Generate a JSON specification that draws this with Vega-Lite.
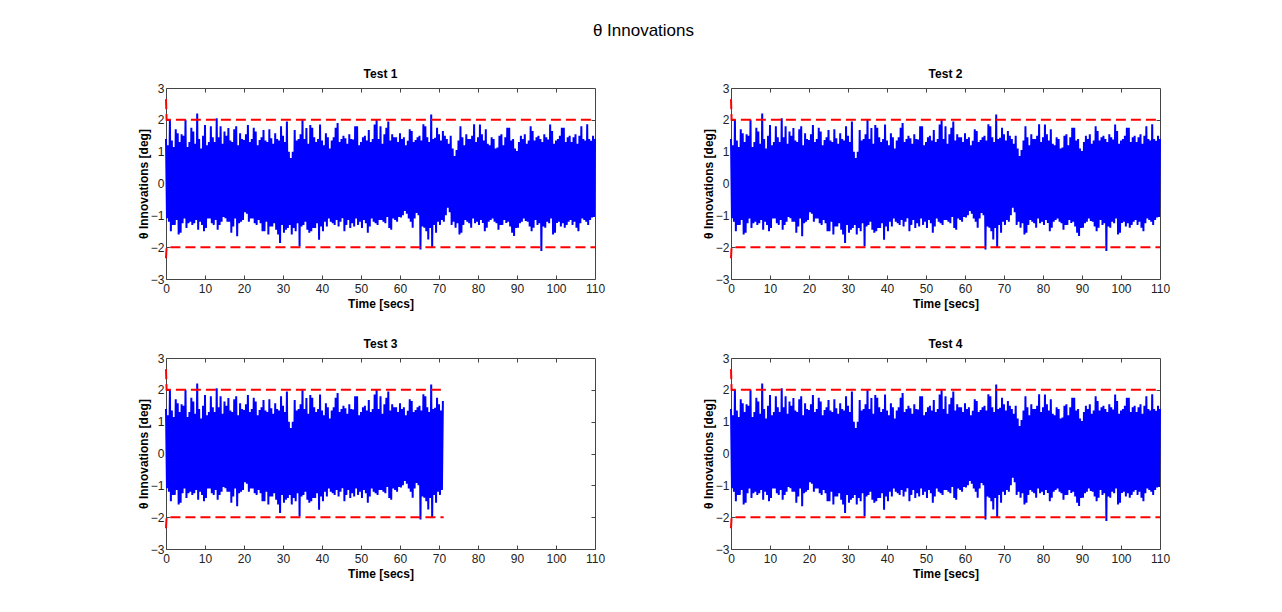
{
  "$schema": "https://vega.github.io/schema/vega-lite/v6.json",
  "background": "white",
  "padding": {"left": 136, "top": 21, "right": 10, "bottom": 10},
  "title": {"text": "θ Innovations", "fontSize": 17, "fontWeight": "normal", "offset": 28, "dx": -10, "anchor": "middle"},
  "datasets": {
    "innov": [
      {"t":0,"v":1.4},{"t":0.25,"v":-1.09},{"t":0.5,"v":1.2},{"t":0.75,"v":-1.2},
      {"t":1,"v":2.0},{"t":1.25,"v":-1.5},{"t":1.5,"v":1.35},{"t":1.75,"v":-1.3},
      {"t":2,"v":1.15},{"t":2.25,"v":-1.3},{"t":2.5,"v":1.7},{"t":2.75,"v":-1.15},
      {"t":3,"v":1.58},{"t":3.25,"v":-1.6},{"t":3.5,"v":1.3},{"t":3.75,"v":-1.55},
      {"t":4,"v":1.55},{"t":4.25,"v":-1.25},{"t":4.5,"v":1.5},{"t":4.75,"v":-1.1},
      {"t":5,"v":2.0},{"t":5.25,"v":-1.4},{"t":5.5,"v":1.15},{"t":5.75,"v":-1.25},
      {"t":6,"v":1.3},{"t":6.25,"v":-1.2},{"t":6.5,"v":1.75},{"t":6.75,"v":-1.3},
      {"t":7,"v":1.63},{"t":7.25,"v":-1.25},{"t":7.5,"v":1.25},{"t":7.75,"v":-1.15},
      {"t":8,"v":2.2},{"t":8.25,"v":-1.45},{"t":8.5,"v":1.4},{"t":8.75,"v":-1.2},
      {"t":9,"v":1.1},{"t":9.25,"v":-1.3},{"t":9.5,"v":1.5},{"t":9.75,"v":-1.5},
      {"t":10,"v":1.84},{"t":10.25,"v":-1.4},{"t":10.5,"v":1.2},{"t":10.75,"v":-1.1},
      {"t":11,"v":1.3},{"t":11.25,"v":-1.1},{"t":11.5,"v":1.8},{"t":11.75,"v":-1.25},
      {"t":12,"v":1.45},{"t":12.25,"v":-1.3},{"t":12.5,"v":1.3},{"t":12.75,"v":-1.15},
      {"t":13,"v":2.05},{"t":13.25,"v":-1.45},{"t":13.5,"v":1.45},{"t":13.75,"v":-1.3},
      {"t":14,"v":1.8},{"t":14.25,"v":-1.2},{"t":14.5,"v":1.25},{"t":14.75,"v":-1.05},
      {"t":15,"v":1.63},{"t":15.25,"v":-1.09},{"t":15.5,"v":1.5},{"t":15.75,"v":-1.2},
      {"t":16,"v":1.74},{"t":16.25,"v":-1.2},{"t":16.5,"v":1.35},{"t":16.75,"v":-1.55},
      {"t":17,"v":1.3},{"t":17.25,"v":-1.35},{"t":17.5,"v":1.7},{"t":17.75,"v":-1.1},
      {"t":18,"v":1.8},{"t":18.25,"v":-1.66},{"t":18.5,"v":1.2},{"t":18.75,"v":-1.25},
      {"t":19,"v":1.58},{"t":19.25,"v":-1.2},{"t":19.5,"v":1.4},{"t":19.75,"v":-1.15},
      {"t":20,"v":1.37},{"t":20.25,"v":-0.9},{"t":20.5,"v":1.55},{"t":20.75,"v":-0.95},
      {"t":21,"v":1.84},{"t":21.25,"v":-1.2},{"t":21.5,"v":1.3},{"t":21.75,"v":-1.1},
      {"t":22,"v":1.4},{"t":22.25,"v":-1.1},{"t":22.5,"v":1.75},{"t":22.75,"v":-1.25},
      {"t":23,"v":1.63},{"t":23.25,"v":-1.3},{"t":23.5,"v":1.2},{"t":23.75,"v":-1.15},
      {"t":24,"v":1.37},{"t":24.25,"v":-1.25},{"t":24.5,"v":1.45},{"t":24.75,"v":-1.5},
      {"t":25,"v":1.68},{"t":25.25,"v":-1.5},{"t":25.5,"v":1.35},{"t":25.75,"v":-1.2},
      {"t":26,"v":1.3},{"t":26.25,"v":-1.6},{"t":26.5,"v":1.7},{"t":26.75,"v":-1.35},
      {"t":27,"v":1.42},{"t":27.25,"v":-1.35},{"t":27.5,"v":1.25},{"t":27.75,"v":-1.25},
      {"t":28,"v":1.58},{"t":28.25,"v":-1.45},{"t":28.5,"v":1.4},{"t":28.75,"v":-1.6},
      {"t":29,"v":1.35},{"t":29.25,"v":-1.87},{"t":29.5,"v":1.8},{"t":29.75,"v":-1.3},
      {"t":30,"v":1.5},{"t":30.25,"v":-1.55},{"t":30.5,"v":1.3},{"t":30.75,"v":-1.45},
      {"t":31,"v":1.95},{"t":31.25,"v":-1.4},{"t":31.5,"v":1.0},{"t":31.75,"v":-1.3},
      {"t":32,"v":0.8},{"t":32.25,"v":-1.6},{"t":32.5,"v":1.0},{"t":32.75,"v":-1.4},
      {"t":33,"v":1.68},{"t":33.25,"v":-1.5},{"t":33.5,"v":1.35},{"t":33.75,"v":-1.25},
      {"t":34,"v":1.4},{"t":34.25,"v":-1.98},{"t":34.5,"v":1.55},{"t":34.75,"v":-1.35},
      {"t":35,"v":2.0},{"t":35.25,"v":-1.3},{"t":35.5,"v":1.4},{"t":35.75,"v":-1.2},
      {"t":36,"v":1.74},{"t":36.25,"v":-1.45},{"t":36.5,"v":1.25},{"t":36.75,"v":-1.55},
      {"t":37,"v":1.84},{"t":37.25,"v":-1.5},{"t":37.5,"v":1.75},{"t":37.75,"v":-1.4},
      {"t":38,"v":1.45},{"t":38.25,"v":-1.4},{"t":38.5,"v":1.3},{"t":38.75,"v":-1.25},
      {"t":39,"v":1.4},{"t":39.25,"v":-1.77},{"t":39.5,"v":1.85},{"t":39.75,"v":-1.35},
      {"t":40,"v":1.35},{"t":40.25,"v":-1.5},{"t":40.5,"v":1.2},{"t":40.75,"v":-1.2},
      {"t":41,"v":1.58},{"t":41.25,"v":-1.35},{"t":41.5,"v":1.45},{"t":41.75,"v":-1.1},
      {"t":42,"v":1.1},{"t":42.25,"v":-1.2},{"t":42.5,"v":1.35},{"t":42.75,"v":-1.25},
      {"t":43,"v":1.45},{"t":43.25,"v":-1.3},{"t":43.5,"v":1.75},{"t":43.75,"v":-1.15},
      {"t":44,"v":1.9},{"t":44.25,"v":-1.35},{"t":44.5,"v":1.3},{"t":44.75,"v":-1.2},
      {"t":45,"v":1.4},{"t":45.25,"v":-1.09},{"t":45.5,"v":1.5},{"t":45.75,"v":-1.5},
      {"t":46,"v":1.42},{"t":46.25,"v":-1.3},{"t":46.5,"v":1.25},{"t":46.75,"v":-1.15},
      {"t":47,"v":1.55},{"t":47.25,"v":-1.4},{"t":47.5,"v":1.4},{"t":47.75,"v":-1.25},
      {"t":48,"v":1.38},{"t":48.25,"v":-1.35},{"t":48.5,"v":1.8},{"t":48.75,"v":-1.1},
      {"t":49,"v":1.8},{"t":49.25,"v":-1.3},{"t":49.5,"v":1.2},{"t":49.75,"v":-1.2},
      {"t":50,"v":1.3},{"t":50.25,"v":-1.4},{"t":50.5,"v":1.45},{"t":50.75,"v":-1.15},
      {"t":51,"v":1.5},{"t":51.25,"v":-1.25},{"t":51.5,"v":1.35},{"t":51.75,"v":-1.55},
      {"t":52,"v":1.68},{"t":52.25,"v":-1.35},{"t":52.5,"v":1.3},{"t":52.75,"v":-1.1},
      {"t":53,"v":1.4},{"t":53.25,"v":-1.2},{"t":53.5,"v":1.85},{"t":53.75,"v":-1.25},
      {"t":54,"v":2.0},{"t":54.25,"v":-1.3},{"t":54.5,"v":1.4},{"t":54.75,"v":-1.15},
      {"t":55,"v":1.8},{"t":55.25,"v":-1.15},{"t":55.5,"v":1.25},{"t":55.75,"v":-1.2},
      {"t":56,"v":1.55},{"t":56.25,"v":-1.25},{"t":56.5,"v":1.75},{"t":56.75,"v":-1.05},
      {"t":57,"v":1.95},{"t":57.25,"v":-1.4},{"t":57.5,"v":1.35},{"t":57.75,"v":-1.45},
      {"t":58,"v":1.55},{"t":58.25,"v":-1.1},{"t":58.5,"v":1.45},{"t":58.75,"v":-1.15},
      {"t":59,"v":1.45},{"t":59.25,"v":-1.2},{"t":59.5,"v":1.3},{"t":59.75,"v":-1.05},
      {"t":60,"v":1.58},{"t":60.25,"v":-1.07},{"t":60.5,"v":1.4},{"t":60.75,"v":-1.0},
      {"t":61,"v":1.45},{"t":61.25,"v":-0.86},{"t":61.5,"v":1.2},{"t":61.75,"v":-0.95},
      {"t":62,"v":1.34},{"t":62.25,"v":-1.1},{"t":62.5,"v":1.7},{"t":62.75,"v":-1.2},
      {"t":63,"v":1.65},{"t":63.25,"v":-1.39},{"t":63.5,"v":1.3},{"t":63.75,"v":-1.1},
      {"t":64,"v":1.37},{"t":64.25,"v":-0.93},{"t":64.5,"v":1.45},{"t":64.75,"v":-1.0},
      {"t":65,"v":1.5},{"t":65.25,"v":-2.07},{"t":65.5,"v":1.35},{"t":65.75,"v":-1.35},
      {"t":66,"v":1.86},{"t":66.25,"v":-1.39},{"t":66.5,"v":1.8},{"t":66.75,"v":-1.5},
      {"t":67,"v":1.45},{"t":67.25,"v":-1.76},{"t":67.5,"v":1.3},{"t":67.75,"v":-1.4},
      {"t":68,"v":2.17},{"t":68.25,"v":-2.0},{"t":68.5,"v":1.4},{"t":68.75,"v":-1.3},
      {"t":69,"v":1.44},{"t":69.25,"v":-1.55},{"t":69.5,"v":1.75},{"t":69.75,"v":-1.2},
      {"t":70,"v":1.55},{"t":70.25,"v":-1.3},{"t":70.5,"v":1.35},{"t":70.75,"v":-1.15},
      {"t":71,"v":1.65},{"t":71.25,"v":-1.2},{"t":71.5,"v":1.5},{"t":71.75,"v":-1.0},
      {"t":72,"v":1.4},{"t":72.25,"v":-0.76},{"t":72.5,"v":1.25},{"t":72.75,"v":-0.9},
      {"t":73,"v":1.5},{"t":73.25,"v":-1.3},{"t":73.5,"v":1.1},{"t":73.75,"v":-1.2},
      {"t":74,"v":0.86},{"t":74.25,"v":-1.39},{"t":74.5,"v":1.05},{"t":74.75,"v":-1.25},
      {"t":75,"v":1.35},{"t":75.25,"v":-1.6},{"t":75.5,"v":1.8},{"t":75.75,"v":-1.55},
      {"t":76,"v":1.45},{"t":76.25,"v":-1.3},{"t":76.5,"v":1.2},{"t":76.75,"v":-1.15},
      {"t":77,"v":1.55},{"t":77.25,"v":-1.2},{"t":77.5,"v":1.4},{"t":77.75,"v":-1.25},
      {"t":78,"v":1.4},{"t":78.25,"v":-1.39},{"t":78.5,"v":1.5},{"t":78.75,"v":-1.1},
      {"t":79,"v":1.86},{"t":79.25,"v":-1.25},{"t":79.5,"v":1.3},{"t":79.75,"v":-1.2},
      {"t":80,"v":1.45},{"t":80.25,"v":-1.3},{"t":80.5,"v":1.85},{"t":80.75,"v":-1.15},
      {"t":81,"v":1.55},{"t":81.25,"v":-1.24},{"t":81.5,"v":1.35},{"t":81.75,"v":-1.5},
      {"t":82,"v":1.7},{"t":82.25,"v":-1.39},{"t":82.5,"v":1.25},{"t":82.75,"v":-1.2},
      {"t":83,"v":1.2},{"t":83.25,"v":-1.15},{"t":83.5,"v":1.45},{"t":83.75,"v":-1.1},
      {"t":84,"v":1.4},{"t":84.25,"v":-1.2},{"t":84.5,"v":1.1},{"t":84.75,"v":-1.25},
      {"t":85,"v":1.13},{"t":85.25,"v":-1.45},{"t":85.5,"v":1.5},{"t":85.75,"v":-1.3},
      {"t":86,"v":1.55},{"t":86.25,"v":-1.3},{"t":86.5,"v":1.2},{"t":86.75,"v":-1.15},
      {"t":87,"v":1.45},{"t":87.25,"v":-1.24},{"t":87.5,"v":1.75},{"t":87.75,"v":-1.2},
      {"t":88,"v":1.75},{"t":88.25,"v":-1.35},{"t":88.5,"v":1.35},{"t":88.75,"v":-1.55},
      {"t":89,"v":1.4},{"t":89.25,"v":-1.65},{"t":89.5,"v":1.1},{"t":89.75,"v":-1.4},
      {"t":90,"v":1.02},{"t":90.25,"v":-1.39},{"t":90.5,"v":1.3},{"t":90.75,"v":-1.25},
      {"t":91,"v":1.5},{"t":91.25,"v":-1.2},{"t":91.5,"v":1.4},{"t":91.75,"v":-1.1},
      {"t":92,"v":1.55},{"t":92.25,"v":-1.18},{"t":92.5,"v":1.25},{"t":92.75,"v":-1.2},
      {"t":93,"v":1.35},{"t":93.25,"v":-1.35},{"t":93.5,"v":1.8},{"t":93.75,"v":-1.5},
      {"t":94,"v":1.65},{"t":94.25,"v":-1.39},{"t":94.5,"v":1.35},{"t":94.75,"v":-1.15},
      {"t":95,"v":1.45},{"t":95.25,"v":-1.3},{"t":95.5,"v":1.5},{"t":95.75,"v":-1.25},
      {"t":96,"v":1.4},{"t":96.25,"v":-2.12},{"t":96.5,"v":1.3},{"t":96.75,"v":-1.35},
      {"t":97,"v":1.55},{"t":97.25,"v":-1.39},{"t":97.5,"v":1.45},{"t":97.75,"v":-1.2},
      {"t":98,"v":1.38},{"t":98.25,"v":-1.25},{"t":98.5,"v":1.85},{"t":98.75,"v":-1.1},
      {"t":99,"v":1.65},{"t":99.25,"v":-1.6},{"t":99.5,"v":1.25},{"t":99.75,"v":-1.55},
      {"t":100,"v":1.35},{"t":100.25,"v":-1.24},{"t":100.5,"v":1.4},{"t":100.75,"v":-1.2},
      {"t":101,"v":1.5},{"t":101.25,"v":-1.35},{"t":101.5,"v":1.75},{"t":101.75,"v":-1.25},
      {"t":102,"v":1.75},{"t":102.25,"v":-1.39},{"t":102.5,"v":1.3},{"t":102.75,"v":-1.3},
      {"t":103,"v":1.45},{"t":103.25,"v":-1.2},{"t":103.5,"v":1.5},{"t":103.75,"v":-1.15},
      {"t":104,"v":1.3},{"t":104.25,"v":-1.3},{"t":104.5,"v":1.45},{"t":104.75,"v":-1.2},
      {"t":105,"v":1.55},{"t":105.25,"v":-1.39},{"t":105.5,"v":1.25},{"t":105.75,"v":-1.5},
      {"t":106,"v":1.5},{"t":106.25,"v":-1.25},{"t":106.5,"v":1.8},{"t":106.75,"v":-1.1},
      {"t":107,"v":1.4},{"t":107.25,"v":-1.15},{"t":107.5,"v":1.35},{"t":107.75,"v":-1.2},
      {"t":108,"v":1.86},{"t":108.25,"v":-1.3},{"t":108.5,"v":1.4},{"t":108.75,"v":-1.15},
      {"t":109,"v":1.34},{"t":109.25,"v":-1.07},{"t":109.5,"v":1.5},{"t":109.75,"v":-1.05},
      {"t":110,"v":1.4}
    ],
    "bounds": [
      {"test":"Test 1","t":0,"u":2.65,"l":-2.35},{"test":"Test 1","t":0.15,"u":2,"l":-2},{"test":"Test 1","t":110,"u":2,"l":-2},
      {"test":"Test 2","t":0,"u":2.65,"l":-2.35},{"test":"Test 2","t":0.15,"u":2,"l":-2},{"test":"Test 2","t":110,"u":2,"l":-2},
      {"test":"Test 3","t":0,"u":2.65,"l":-2.35},{"test":"Test 3","t":0.15,"u":2,"l":-2},{"test":"Test 3","t":71.2,"u":2,"l":-2},
      {"test":"Test 4","t":0,"u":2.65,"l":-2.35},{"test":"Test 4","t":0.15,"u":2,"l":-2},{"test":"Test 4","t":110,"u":2,"l":-2}
    ]
  },
  "columns": 2,
  "spacing": {"row": 79, "column": 136},
  "bounds": "flush",
  "concat": [
    {
      "title": "Test 1",
      "width": 429, "height": 191,
      "layer": [
        {
          "data": {"name": "innov"},
          "mark": {"type": "line", "color": "#0000ff", "strokeWidth": 2},
          "encoding": {
            "x": {"field": "t", "type": "quantitative", "scale": {"domain": [0, 110], "nice": false, "zero": false},
                  "axis": {"values": [0,10,20,30,40,50,60,70,80,90,100,110], "title": "Time [secs]", "titlePadding": 4, "labelFlush": false, "labelOverlap": false}},
            "y": {"field": "v", "type": "quantitative", "scale": {"domain": [-3, 3], "nice": false, "zero": false},
                  "axis": {"values": [-3,-2,-1,0,1,2,3], "title": "θ Innovations [deg]", "titlePadding": 0, "labelPadding": 6, "labelFlush": false, "labelOverlap": false}}
          }
        },
        {
          "data": {"name": "bounds"},
          "transform": [{"filter": "datum.test == 'Test 1'"}],
          "mark": {"type": "line", "color": "#ff0000", "strokeWidth": 2, "strokeDash": [10, 5]},
          "encoding": {
            "x": {"field": "t", "type": "quantitative", "scale": {"domain": [0, 110], "nice": false, "zero": false},
                  "axis": {"orient": "top", "values": [10,20,30,40,50,60,70,80,90,100], "labels": false, "title": null}},
            "y": {"field": "u", "type": "quantitative", "scale": {"domain": [-3, 3], "nice": false, "zero": false},
                  "axis": {"orient": "right", "values": [-2,-1,0,1,2], "labels": false, "title": null}}
          }
        },
        {
          "data": {"name": "bounds"},
          "transform": [{"filter": "datum.test == 'Test 1'"}],
          "mark": {"type": "line", "color": "#ff0000", "strokeWidth": 2, "strokeDash": [10, 5]},
          "encoding": {
            "x": {"field": "t", "type": "quantitative", "axis": null},
            "y": {"field": "l", "type": "quantitative", "axis": null}
          }
        }
      ],
      "resolve": {"axis": {"x": "independent", "y": "independent"}}
    },
    {
      "title": "Test 2",
      "width": 429, "height": 191,
      "layer": [
        {
          "data": {"name": "innov"},
          "mark": {"type": "line", "color": "#0000ff", "strokeWidth": 2},
          "encoding": {
            "x": {"field": "t", "type": "quantitative", "scale": {"domain": [0, 110], "nice": false, "zero": false},
                  "axis": {"values": [0,10,20,30,40,50,60,70,80,90,100,110], "title": "Time [secs]", "titlePadding": 4, "labelFlush": false, "labelOverlap": false}},
            "y": {"field": "v", "type": "quantitative", "scale": {"domain": [-3, 3], "nice": false, "zero": false},
                  "axis": {"values": [-3,-2,-1,0,1,2,3], "title": "θ Innovations [deg]", "titlePadding": 0, "labelPadding": 6, "labelFlush": false, "labelOverlap": false}}
          }
        },
        {
          "data": {"name": "bounds"},
          "transform": [{"filter": "datum.test == 'Test 2'"}],
          "mark": {"type": "line", "color": "#ff0000", "strokeWidth": 2, "strokeDash": [10, 5]},
          "encoding": {
            "x": {"field": "t", "type": "quantitative", "scale": {"domain": [0, 110], "nice": false, "zero": false},
                  "axis": {"orient": "top", "values": [10,20,30,40,50,60,70,80,90,100], "labels": false, "title": null}},
            "y": {"field": "u", "type": "quantitative", "scale": {"domain": [-3, 3], "nice": false, "zero": false},
                  "axis": {"orient": "right", "values": [-2,-1,0,1,2], "labels": false, "title": null}}
          }
        },
        {
          "data": {"name": "bounds"},
          "transform": [{"filter": "datum.test == 'Test 2'"}],
          "mark": {"type": "line", "color": "#ff0000", "strokeWidth": 2, "strokeDash": [10, 5]},
          "encoding": {
            "x": {"field": "t", "type": "quantitative", "axis": null},
            "y": {"field": "l", "type": "quantitative", "axis": null}
          }
        }
      ],
      "resolve": {"axis": {"x": "independent", "y": "independent"}}
    },
    {
      "title": "Test 3",
      "width": 429, "height": 191,
      "layer": [
        {
          "data": {"name": "innov"},
          "transform": [{"filter": "datum.t <= 71.2"}],
          "mark": {"type": "line", "color": "#0000ff", "strokeWidth": 2},
          "encoding": {
            "x": {"field": "t", "type": "quantitative", "scale": {"domain": [0, 110], "nice": false, "zero": false},
                  "axis": {"values": [0,10,20,30,40,50,60,70,80,90,100,110], "title": "Time [secs]", "titlePadding": 4, "labelFlush": false, "labelOverlap": false}},
            "y": {"field": "v", "type": "quantitative", "scale": {"domain": [-3, 3], "nice": false, "zero": false},
                  "axis": {"values": [-3,-2,-1,0,1,2,3], "title": "θ Innovations [deg]", "titlePadding": 0, "labelPadding": 6, "labelFlush": false, "labelOverlap": false}}
          }
        },
        {
          "data": {"name": "bounds"},
          "transform": [{"filter": "datum.test == 'Test 3'"}],
          "mark": {"type": "line", "color": "#ff0000", "strokeWidth": 2, "strokeDash": [10, 5]},
          "encoding": {
            "x": {"field": "t", "type": "quantitative", "scale": {"domain": [0, 110], "nice": false, "zero": false},
                  "axis": {"orient": "top", "values": [10,20,30,40,50,60,70,80,90,100], "labels": false, "title": null}},
            "y": {"field": "u", "type": "quantitative", "scale": {"domain": [-3, 3], "nice": false, "zero": false},
                  "axis": {"orient": "right", "values": [-2,-1,0,1,2], "labels": false, "title": null}}
          }
        },
        {
          "data": {"name": "bounds"},
          "transform": [{"filter": "datum.test == 'Test 3'"}],
          "mark": {"type": "line", "color": "#ff0000", "strokeWidth": 2, "strokeDash": [10, 5]},
          "encoding": {
            "x": {"field": "t", "type": "quantitative", "axis": null},
            "y": {"field": "l", "type": "quantitative", "axis": null}
          }
        }
      ],
      "resolve": {"axis": {"x": "independent", "y": "independent"}}
    },
    {
      "title": "Test 4",
      "width": 429, "height": 191,
      "layer": [
        {
          "data": {"name": "innov"},
          "mark": {"type": "line", "color": "#0000ff", "strokeWidth": 2},
          "encoding": {
            "x": {"field": "t", "type": "quantitative", "scale": {"domain": [0, 110], "nice": false, "zero": false},
                  "axis": {"values": [0,10,20,30,40,50,60,70,80,90,100,110], "title": "Time [secs]", "titlePadding": 4, "labelFlush": false, "labelOverlap": false}},
            "y": {"field": "v", "type": "quantitative", "scale": {"domain": [-3, 3], "nice": false, "zero": false},
                  "axis": {"values": [-3,-2,-1,0,1,2,3], "title": "θ Innovations [deg]", "titlePadding": 0, "labelPadding": 6, "labelFlush": false, "labelOverlap": false}}
          }
        },
        {
          "data": {"name": "bounds"},
          "transform": [{"filter": "datum.test == 'Test 4'"}],
          "mark": {"type": "line", "color": "#ff0000", "strokeWidth": 2, "strokeDash": [10, 5]},
          "encoding": {
            "x": {"field": "t", "type": "quantitative", "scale": {"domain": [0, 110], "nice": false, "zero": false},
                  "axis": {"orient": "top", "values": [10,20,30,40,50,60,70,80,90,100], "labels": false, "title": null}},
            "y": {"field": "u", "type": "quantitative", "scale": {"domain": [-3, 3], "nice": false, "zero": false},
                  "axis": {"orient": "right", "values": [-2,-1,0,1,2], "labels": false, "title": null}}
          }
        },
        {
          "data": {"name": "bounds"},
          "transform": [{"filter": "datum.test == 'Test 4'"}],
          "mark": {"type": "line", "color": "#ff0000", "strokeWidth": 2, "strokeDash": [10, 5]},
          "encoding": {
            "x": {"field": "t", "type": "quantitative", "axis": null},
            "y": {"field": "l", "type": "quantitative", "axis": null}
          }
        }
      ],
      "resolve": {"axis": {"x": "independent", "y": "independent"}}
    }
  ],
  "config": {
    "font": "Liberation Sans",
    "view": {"stroke": "#444", "strokeWidth": 1},
    "axis": {"domain": false, "grid": false, "tickColor": "#444", "tickSize": -4, "labelPadding": 8, "labelFontSize": 12, "labelColor": "#222", "titleFontSize": 12, "titleFontWeight": "bold", "titleColor": "#000"},
    "title": {"fontSize": 12, "fontWeight": "bold", "color": "#000", "offset": 1}
  }
}
